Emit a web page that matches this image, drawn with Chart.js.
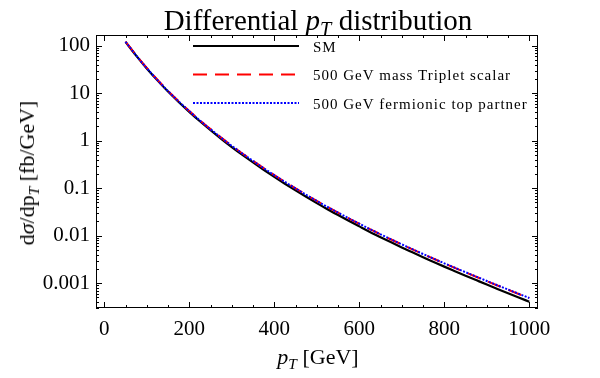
<!DOCTYPE html>
<html>
<head>
<meta charset="utf-8">
<title>Differential pT distribution</title>
<script src="https://cdn.jsdelivr.net/npm/chart.js"></script>
<style>
  body { margin: 0; background: #fff; }
  .wrap { position: relative; width: 600px; height: 378px; font-family: "Liberation Serif", serif; color: #000; }
  canvas { position: absolute; left: 0; top: 0; }
  .title { position: absolute; left: 318px; top: 20px; transform: translate(-50%, -50%); font-size: 29px; white-space: nowrap; }
  .xlabel { position: absolute; left: 318px; top: 357px; transform: translate(-50%, -50%); font-size: 22px; white-space: nowrap; }
  .ylabel { position: absolute; left: 27px; top: 173px; transform: translate(-50%, -50%) rotate(-90deg); font-size: 22px; white-space: nowrap; }
  sub { font-size: 0.7em; vertical-align: -0.3em; line-height: 0; }
</style>
</head>
<body>
<div class="wrap">
  <canvas id="ptChart" width="600" height="378"></canvas>
  <div class="title">Differential <i>p</i><sub><i>T</i></sub> distribution</div>
  <div class="ylabel">d<i>σ</i>/dp<sub><i>T</i></sub> [fb/GeV]</div>
  <div class="xlabel"><i>p</i><sub><i>T</i></sub> [GeV]</div>
</div>
<script>
// pT values (GeV) and dσ/dpT (fb/GeV)
const pT = [50, 75, 100, 125, 150, 175, 200, 225, 250, 275, 300, 325, 350, 375, 400, 425, 450, 475, 500,
            525, 550, 575, 600, 625, 650, 675, 700, 725, 750, 775, 800, 825, 850, 875, 900, 925, 950, 975, 1000];
const sm = [120.2, 61.7, 33.1, 18.6, 10.8, 6.53, 4.05, 2.56, 1.66, 1.094, 0.733, 0.501, 0.348, 0.244, 0.173, 0.124, 0.0899, 0.0658, 0.0485,
            0.0361, 0.0272, 0.0206, 0.0157, 0.0120, 0.00929, 0.00723, 0.00566, 0.00446, 0.00352, 0.00280, 0.00223, 0.00179, 0.00144, 0.00116, 0.000935, 0.000757, 0.000614, 0.000499, 0.000406];
const triplet = [122.4, 63.0, 33.95, 19.14, 11.15, 6.78, 4.225, 2.68, 1.752, 1.160, 0.782, 0.538, 0.3757, 0.2646, 0.1886, 0.1359, 0.0990, 0.0728, 0.0539,
                 0.0404, 0.0305, 0.02325, 0.01782, 0.01367, 0.01062, 0.00830, 0.00653, 0.00516, 0.00409, 0.00326, 0.00260, 0.002095, 0.001687, 0.001365, 0.001102, 0.000894, 0.000728, 0.000592, 0.000483];
const fermionic = [121.0, 62.3, 33.6, 18.95, 11.05, 6.72, 4.19, 2.66, 1.74, 1.153, 0.778, 0.535, 0.374, 0.2635, 0.188, 0.1355, 0.0988, 0.0727, 0.0539,
                   0.0404, 0.0306, 0.0233, 0.01787, 0.01372, 0.01066, 0.00834, 0.00656, 0.00519, 0.00411, 0.00328, 0.00262, 0.00211, 0.00170, 0.001376, 0.001112, 0.000903, 0.000735, 0.000598, 0.000488];

const seriesLabels = ['SM', '500 GeV mass Triplet scalar', '500 GeV fermionic top partner'];
const xTicks = [0, 200, 400, 600, 800, 1000];
const yTicks = [0.001, 0.01, 0.1, 1, 10, 100];

const FONT = '"Liberation Serif", serif';

function isDecade(v) {
    const l = Math.log10(v);
    return Math.abs(l - Math.round(l)) < 1e-9;
}

// frame + inward ticks on all four sides, Mathematica style
const frameTicks = {
    id: 'frameTicks',
    afterDraw(chart) {
        const ctx = chart.ctx;
        const { left, right, top, bottom } = chart.chartArea;
        ctx.save();
        ctx.strokeStyle = '#000';
        ctx.lineWidth = 1;
        ctx.strokeRect(left + 0.5, top + 0.5, right - left - 1, bottom - top - 1);
        ctx.beginPath();
        const xs = chart.scales.x;
        xs.ticks.forEach(t => {
            const px = Math.round(xs.getPixelForValue(t.value)) + 0.5;
            const len = xTicks.includes(t.value) ? 6 : 3;
            ctx.moveTo(px, bottom); ctx.lineTo(px, bottom - len);
            ctx.moveTo(px, top); ctx.lineTo(px, top + len);
        });
        const ys = chart.scales.y;
        ys.ticks.forEach(t => {
            const py = Math.round(ys.getPixelForValue(t.value)) + 0.5;
            const len = isDecade(t.value) ? 6 : 3;
            ctx.moveTo(left, py); ctx.lineTo(left + len, py);
            ctx.moveTo(right, py); ctx.lineTo(right - len, py);
        });
        ctx.stroke();
        ctx.restore();
    }
};

// legend inside the plot: line sample + label
const innerLegend = {
    id: 'innerLegend',
    afterDraw(chart) {
        const ctx = chart.ctx;
        ctx.save();
        chart.data.datasets.forEach((ds, i) => {
            const y = 46 + i * 28.5;
            ctx.beginPath();
            ctx.strokeStyle = ds.borderColor;
            ctx.lineWidth = ds.borderWidth;
            ctx.setLineDash(ds.borderDash || []);
            ctx.moveTo(193, y);
            ctx.lineTo(299, y);
            ctx.stroke();
            ctx.setLineDash([]);
            ctx.fillStyle = '#000';
            ctx.font = '15px ' + FONT;
            ctx.letterSpacing = '1px';
            ctx.textBaseline = 'middle';
            ctx.fillText(ds.label, 313, y + 2);
        });
        ctx.restore();
    }
};

const ctx = document.getElementById('ptChart').getContext('2d');
new Chart(ctx, {
    type: 'line',
    data: {
        datasets: [
            {
                label: seriesLabels[0],
                data: pT.map((x, i) => ({ x: x, y: sm[i] })),
                borderColor: '#000000',
                borderWidth: 2.2,
                order: 3
            },
            {
                label: seriesLabels[1],
                data: pT.map((x, i) => ({ x: x, y: triplet[i] })),
                borderColor: '#ff0000',
                borderWidth: 2,
                borderDash: [14, 8],
                order: 2
            },
            {
                label: seriesLabels[2],
                data: pT.map((x, i) => ({ x: x, y: fermionic[i] })),
                borderColor: '#0000ff',
                borderWidth: 2,
                borderDash: [2, 1.5],
                order: 1
            }
        ]
    },
    options: {
        responsive: false,
        animation: false,
        elements: { point: { radius: 0 }, line: { cubicInterpolationMode: 'monotone', fill: false } },
        layout: { padding: { left: 0, top: 35, right: 62, bottom: 0 } },
        plugins: { legend: { display: false }, tooltip: { enabled: false }, title: { display: false } },
        scales: {
            x: {
                type: 'linear',
                min: -19.5,
                max: 1020.5,
                grid: { display: false, drawTicks: false },
                border: { display: false },
                afterBuildTicks: scale => {
                    const t = [];
                    for (let v = 0; v <= 1000; v += 50) t.push({ value: v });
                    scale.ticks = t;
                },
                afterFit: scale => { scale.height = 70; },
                ticks: {
                    autoSkip: false,
                    maxRotation: 0,
                    padding: 9,
                    color: '#000',
                    font: { family: FONT, size: 21 },
                    callback: v => xTicks.includes(v) ? String(v) : ''
                }
            },
            y: {
                type: 'logarithmic',
                min: 0.000309,
                max: 167.8,
                grid: { display: false, drawTicks: false },
                border: { display: false },
                afterBuildTicks: scale => {
                    const t = [];
                    [0.0001].concat(yTicks).forEach(d => {
                        for (let m = 1; m <= 9; m++) {
                            const v = +(d * m).toPrecision(6);
                            if (v >= scale.min && v <= scale.max) t.push({ value: v });
                        }
                    });
                    scale.ticks = t;
                },
                afterFit: scale => { scale.width = 96; },
                ticks: {
                    autoSkip: false,
                    padding: 6,
                    color: '#000',
                    font: { family: FONT, size: 21 },
                    callback: v => yTicks.includes(v) ? String(v) : ''
                }
            }
        }
    },
    plugins: [frameTicks, innerLegend]
});
</script>
</body>
</html>
